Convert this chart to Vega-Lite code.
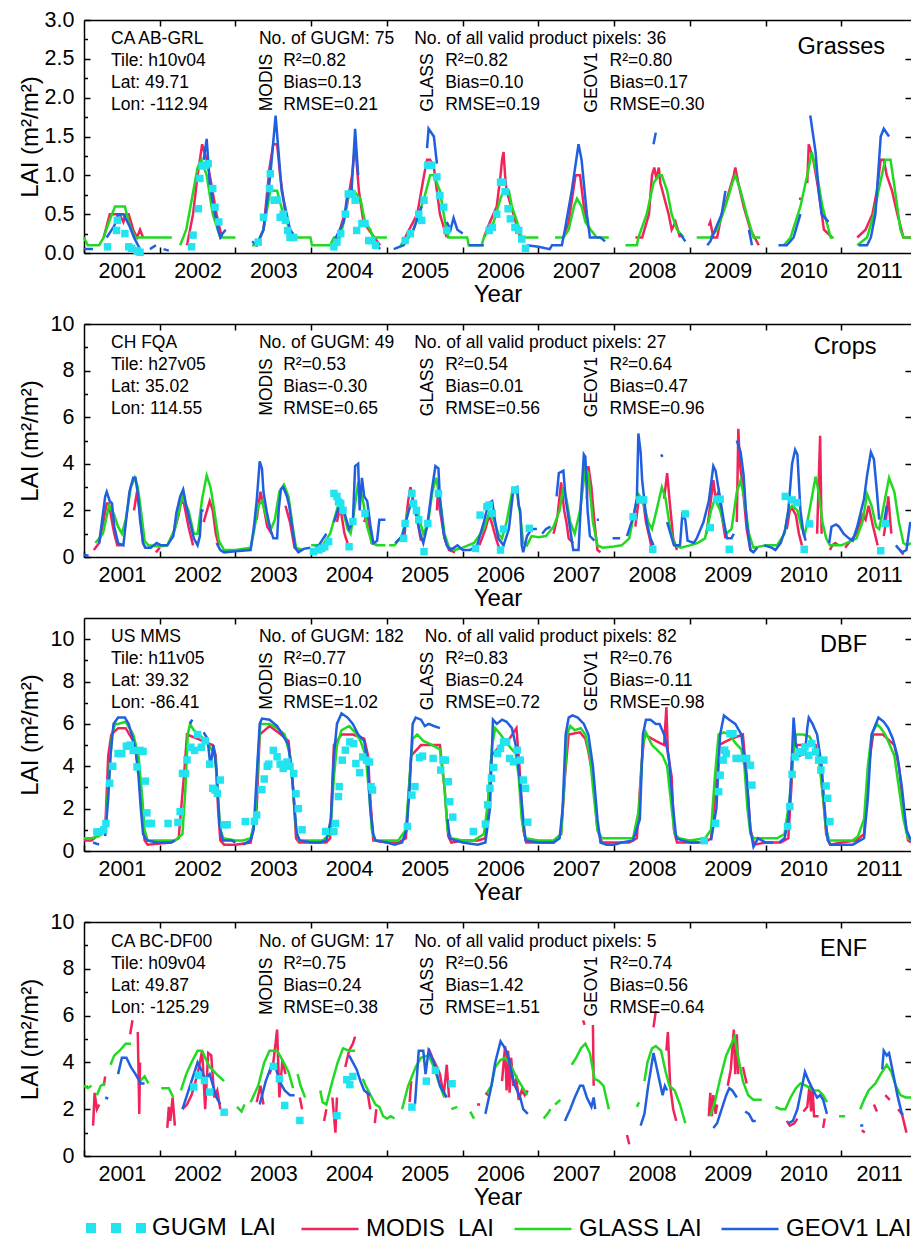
{
"$schema":"https://vega.github.io/schema/vega-lite/v6.json",
"padding":{"left":18,"top":9,"right":0,"bottom":0},
"background":"white",
"config":{"font":"Liberation Sans","view":{"stroke":null},
"axis":{"labelFont":"Liberation Sans","titleFont":"Liberation Sans","labelFontSize":21.5,"titleFontSize":24,"titleFontWeight":"normal","labelColor":"black","titleColor":"black","tickColor":"black","domainColor":"black","domainWidth":1.5,"tickWidth":1.5,"grid":false,"labelFlush":false,"labelOverlap":false},
"legend":{"labelFont":"Liberation Sans","labelFontSize":24,"labelColor":"black","labelOffset":6,"padding":0,"title":null},
"text":{"font":"Liberation Sans","fontSize":17.5,"align":"left","baseline":"middle","lineHeight":22,"color":"black"},
"line":{"strokeWidth":2.5,"clip":true},
"square":{"size":56,"opacity":1,"clip":true}},
"spacing":6,
"resolve":{"scale":{"x":"independent","y":"independent","color":"shared","fill":"shared"},"legend":{"color":"shared","fill":"shared"}},
"datasets":{
"p1M":[{"t":2001.26,"v":0.2},{"t":2001.34,"v":0.5},{"t":2001.47,"v":0.5},{"t":2001.52,"v":0.4},{"t":2001.55,"v":0.5},{"t":2001.59,"v":0.5},{"t":2001.65,"v":0.3},{"t":2001.7,"v":0.2},{"t":2001.74,"v":0.3},{"t":2001.78,"v":0.2},{"t":2001.8,"v":null},
{"t":2002.36,"v":0.1},{"t":2002.44,"v":0.5},{"t":2002.5,"v":1.0},{"t":2002.56,"v":1.4},{"t":2002.62,"v":1.2},{"t":2002.68,"v":0.9},{"t":2002.75,"v":0.5},{"t":2002.82,"v":0.2},{"t":2002.85,"v":null},
{"t":2003.28,"v":0.1},{"t":2003.37,"v":0.3},{"t":2003.45,"v":1.1},{"t":2003.5,"v":1.4},{"t":2003.55,"v":1.4},{"t":2003.59,"v":1.0},{"t":2003.66,"v":0.5},{"t":2003.72,"v":0.3},{"t":2003.79,"v":0.2},{"t":2003.8,"v":null},
{"t":2004.3,"v":0.1},{"t":2004.38,"v":0.3},{"t":2004.47,"v":0.6},{"t":2004.54,"v":1.0},{"t":2004.58,"v":1.4},{"t":2004.63,"v":0.8},{"t":2004.69,"v":0.4},{"t":2004.76,"v":0.3},{"t":2004.91,"v":0.1},{"t":2004.95,"v":null},
{"t":2005.24,"v":0.2},{"t":2005.4,"v":0.5},{"t":2005.49,"v":1.0},{"t":2005.53,"v":1.2},{"t":2005.57,"v":1.2},{"t":2005.62,"v":1.1},{"t":2005.7,"v":0.5},{"t":2005.79,"v":0.2},{"t":2005.85,"v":null},
{"t":2006.28,"v":0.2},{"t":2006.36,"v":0.4},{"t":2006.45,"v":0.6},{"t":2006.5,"v":1.0},{"t":2006.52,"v":1.2},{"t":2006.54,"v":1.3},{"t":2006.56,"v":1.0},{"t":2006.58,"v":0.8},{"t":2006.67,"v":0.5},{"t":2006.76,"v":0.2},{"t":2006.8,"v":null},
{"t":2007.33,"v":0.2},{"t":2007.4,"v":0.4},{"t":2007.49,"v":1.0},{"t":2007.55,"v":1.0},{"t":2007.6,"v":0.6},{"t":2007.64,"v":0.4},{"t":2007.7,"v":null},
{"t":2008.28,"v":0.2},{"t":2008.37,"v":0.2},{"t":2008.46,"v":0.5},{"t":2008.5,"v":1.0},{"t":2008.53,"v":1.1},{"t":2008.56,"v":0.95},{"t":2008.59,"v":1.1},{"t":2008.61,"v":0.9},{"t":2008.72,"v":0.5},{"t":2008.76,"v":0.3},{"t":2008.81,"v":0.4},{"t":2008.87,"v":0.2},{"t":2008.9,"v":null},
{"t":2009.25,"v":0.35},{"t":2009.27,"v":0.4},{"t":2009.31,"v":0.2},{"t":2009.36,"v":0.2},{"t":2009.42,"v":0.5},{"t":2009.49,"v":0.7},{"t":2009.58,"v":1.0},{"t":2009.6,"v":1.1},{"t":2009.64,"v":0.9},{"t":2009.71,"v":0.6},{"t":2009.8,"v":0.3},{"t":2009.91,"v":0.1},{"t":2009.95,"v":null},
{"t":2010.44,"v":0.7},{"t":2010.48,"v":0.7},{"t":2010.5,"v":null},{"t":2010.55,"v":0.9},{"t":2010.57,"v":1.4},{"t":2010.63,"v":1.2},{"t":2010.7,"v":0.8},{"t":2010.77,"v":0.3},{"t":2010.88,"v":0.2},{"t":2010.9,"v":null},
{"t":2011.21,"v":0.2},{"t":2011.32,"v":0.3},{"t":2011.41,"v":0.5},{"t":2011.47,"v":0.8},{"t":2011.52,"v":1.2},{"t":2011.56,"v":1.2},{"t":2011.6,"v":1.0},{"t":2011.67,"v":0.8},{"t":2011.74,"v":0.5},{"t":2011.82,"v":0.2},{"t":2011.92,"v":0.2}],
"p1G":[{"t":2001.0,"v":0.2},{"t":2001.05,"v":0.1},{"t":2001.2,"v":0.1},{"t":2001.26,"v":0.2},{"t":2001.33,"v":0.4},{"t":2001.41,"v":0.6},{"t":2001.54,"v":0.6},{"t":2001.59,"v":0.4},{"t":2001.63,"v":0.3},{"t":2001.68,"v":0.2},{"t":2002.16,"v":0.2},{"t":2002.2,"v":null},
{"t":2002.27,"v":0.1},{"t":2002.35,"v":0.3},{"t":2002.5,"v":1.1},{"t":2002.55,"v":1.2},{"t":2002.62,"v":1.0},{"t":2002.7,"v":0.5},{"t":2002.8,"v":0.2},{"t":2003.0,"v":0.2},{"t":2003.1,"v":null},
{"t":2003.22,"v":0.1},{"t":2003.28,"v":0.1},{"t":2003.37,"v":0.3},{"t":2003.46,"v":0.8},{"t":2003.55,"v":0.8},{"t":2003.63,"v":0.5},{"t":2003.72,"v":0.3},{"t":2003.77,"v":0.2},{"t":2003.99,"v":0.2},{"t":2004.01,"v":0.1},{"t":2004.25,"v":0.1},{"t":2004.3,"v":0.2},{"t":2004.38,"v":0.2},{"t":2004.43,"v":0.4},{"t":2004.5,"v":0.8},{"t":2004.56,"v":0.8},{"t":2004.65,"v":0.7},{"t":2004.71,"v":0.4},{"t":2004.78,"v":0.3},{"t":2004.82,"v":0.2},{"t":2005.0,"v":0.2},{"t":2005.05,"v":null},
{"t":2005.18,"v":0.1},{"t":2005.35,"v":0.3},{"t":2005.49,"v":0.7},{"t":2005.57,"v":1.0},{"t":2005.62,"v":1.0},{"t":2005.7,"v":0.8},{"t":2005.75,"v":0.5},{"t":2005.81,"v":0.2},{"t":2006.06,"v":0.2},{"t":2006.08,"v":0.1},{"t":2006.25,"v":0.1},{"t":2006.28,"v":0.2},{"t":2006.41,"v":0.4},{"t":2006.5,"v":0.7},{"t":2006.54,"v":0.8},{"t":2006.61,"v":0.8},{"t":2006.65,"v":0.6},{"t":2006.72,"v":0.4},{"t":2006.78,"v":0.2},{"t":2007.0,"v":0.2},{"t":2007.1,"v":null},
{"t":2007.22,"v":0.2},{"t":2007.33,"v":0.2},{"t":2007.4,"v":0.3},{"t":2007.47,"v":0.6},{"t":2007.51,"v":0.7},{"t":2007.57,"v":0.6},{"t":2007.62,"v":0.4},{"t":2007.69,"v":0.3},{"t":2007.77,"v":0.2},{"t":2007.93,"v":0.2},{"t":2008.0,"v":null},
{"t":2008.15,"v":0.1},{"t":2008.3,"v":0.1},{"t":2008.32,"v":0.2},{"t":2008.43,"v":0.5},{"t":2008.52,"v":0.9},{"t":2008.59,"v":1.0},{"t":2008.63,"v":1.0},{"t":2008.7,"v":0.8},{"t":2008.76,"v":0.5},{"t":2008.83,"v":0.3},{"t":2008.92,"v":0.2},{"t":2008.95,"v":null},
{"t":2009.09,"v":0.2},{"t":2009.27,"v":0.2},{"t":2009.36,"v":0.3},{"t":2009.47,"v":0.6},{"t":2009.56,"v":0.9},{"t":2009.6,"v":1.0},{"t":2009.67,"v":0.8},{"t":2009.75,"v":0.5},{"t":2009.84,"v":0.2},{"t":2009.93,"v":0.2},{"t":2009.96,"v":null},
{"t":2010.24,"v":0.1},{"t":2010.33,"v":0.2},{"t":2010.46,"v":0.6},{"t":2010.55,"v":1.0},{"t":2010.61,"v":1.3},{"t":2010.68,"v":1.0},{"t":2010.75,"v":0.6},{"t":2010.86,"v":0.2},{"t":2010.9,"v":0.2},{"t":2010.95,"v":null},
{"t":2011.21,"v":0.1},{"t":2011.34,"v":0.2},{"t":2011.43,"v":0.5},{"t":2011.49,"v":0.8},{"t":2011.58,"v":1.2},{"t":2011.65,"v":1.2},{"t":2011.71,"v":0.8},{"t":2011.78,"v":0.3},{"t":2011.82,"v":0.2},{"t":2011.92,"v":0.2}],
"p1B":[{"t":2001.0,"v":0.05},{"t":2001.12,"v":0.05},{"t":2001.15,"v":null},{"t":2001.3,"v":0.2},{"t":2001.4,"v":0.35},{"t":2001.45,"v":0.5},{"t":2001.52,"v":0.5},{"t":2001.6,"v":0.35},{"t":2001.66,"v":0.2},{"t":2001.74,"v":0.05},{"t":2001.8,"v":null},{"t":2001.87,"v":0.05},{"t":2001.95,"v":0.1},{"t":2002.0,"v":null},{"t":2002.05,"v":0.05},{"t":2002.12,"v":0.03},{"t":2002.2,"v":null},
{"t":2002.58,"v":1.2},{"t":2002.62,"v":1.47},{"t":2002.66,"v":0.9},{"t":2002.71,"v":0.6},{"t":2002.77,"v":0.3},{"t":2002.8,"v":0.2},{"t":2002.83,"v":0.25},{"t":2002.87,"v":0.3},{"t":2002.9,"v":null},
{"t":2003.22,"v":0.15},{"t":2003.28,"v":0.1},{"t":2003.37,"v":0.3},{"t":2003.46,"v":1.0},{"t":2003.53,"v":1.77},{"t":2003.61,"v":0.8},{"t":2003.72,"v":0.3},{"t":2003.79,"v":0.2},{"t":2003.85,"v":null},
{"t":2004.3,"v":0.15},{"t":2004.43,"v":0.4},{"t":2004.47,"v":0.7},{"t":2004.53,"v":0.75},{"t":2004.58,"v":1.6},{"t":2004.62,"v":1.0},{"t":2004.7,"v":null},{"t":2004.78,"v":0.2},{"t":2004.91,"v":0.05},{"t":2004.95,"v":null},
{"t":2005.09,"v":0.05},{"t":2005.22,"v":0.1},{"t":2005.35,"v":0.3},{"t":2005.46,"v":0.6},{"t":2005.5,"v":null},{"t":2005.53,"v":1.35},{"t":2005.55,"v":1.6},{"t":2005.62,"v":1.5},{"t":2005.66,"v":1.15},{"t":2005.7,"v":null},{"t":2005.79,"v":0.4},{"t":2005.84,"v":0.3},{"t":2005.88,"v":0.45},{"t":2005.93,"v":0.3},{"t":2006.0,"v":0.25},{"t":2006.03,"v":null},
{"t":2006.08,"v":0.1},{"t":2006.28,"v":0.1},{"t":2006.3,"v":null},{"t":2006.85,"v":0.1},{"t":2007.0,"v":0.08},{"t":2007.15,"v":0.05},{"t":2007.18,"v":0.1},{"t":2007.31,"v":0.1},{"t":2007.35,"v":0.3},{"t":2007.44,"v":0.8},{"t":2007.53,"v":1.4},{"t":2007.57,"v":1.2},{"t":2007.64,"v":0.5},{"t":2007.68,"v":0.2},{"t":2007.82,"v":0.2},{"t":2007.88,"v":0.15},{"t":2007.9,"v":null},
{"t":2008.52,"v":1.4},{"t":2008.55,"v":1.55},{"t":2008.6,"v":null},{"t":2008.87,"v":0.25},{"t":2008.94,"v":0.15},{"t":2008.96,"v":null},
{"t":2009.23,"v":0.1},{"t":2009.27,"v":0.15},{"t":2009.42,"v":0.5},{"t":2009.47,"v":0.8},{"t":2009.5,"v":null},{"t":2009.78,"v":0.3},{"t":2009.82,"v":0.1},{"t":2009.85,"v":null},
{"t":2010.17,"v":0.1},{"t":2010.28,"v":0.1},{"t":2010.37,"v":0.2},{"t":2010.46,"v":0.5},{"t":2010.5,"v":null},{"t":2010.59,"v":1.77},{"t":2010.66,"v":1.3},{"t":2010.7,"v":0.8},{"t":2010.74,"v":0.5},{"t":2010.83,"v":0.4},{"t":2010.86,"v":null},
{"t":2011.23,"v":0.1},{"t":2011.34,"v":0.1},{"t":2011.39,"v":0.2},{"t":2011.45,"v":0.5},{"t":2011.52,"v":1.5},{"t":2011.56,"v":1.6},{"t":2011.63,"v":1.5},{"t":2011.7,"v":null}],
"p1C":[{"t":2001.31,"v":0.08},{"t":2001.43,"v":0.29},{"t":2001.44,"v":0.42},{"t":2001.54,"v":0.25},{"t":2001.59,"v":0.08},{"t":2001.63,"v":0.06},{"t":2001.7,"v":0.03},{"t":2001.74,"v":0.01},
{"t":2002.42,"v":0.08},{"t":2002.44,"v":0.23},{"t":2002.51,"v":0.57},{"t":2002.53,"v":0.96},{"t":2002.56,"v":1.12},{"t":2002.6,"v":1.13},{"t":2002.64,"v":1.15},{"t":2002.7,"v":0.83},{"t":2002.73,"v":0.59},{"t":2002.78,"v":0.4},
{"t":2003.3,"v":0.14},{"t":2003.37,"v":0.46},{"t":2003.45,"v":0.83},{"t":2003.46,"v":1.02},{"t":2003.51,"v":0.68},{"t":2003.55,"v":0.68},{"t":2003.59,"v":0.46},{"t":2003.63,"v":0.5},{"t":2003.66,"v":0.42},{"t":2003.69,"v":0.29},{"t":2003.72,"v":0.2},{"t":2003.77,"v":0.2},
{"t":2004.3,"v":0.08},{"t":2004.34,"v":0.14},{"t":2004.39,"v":0.25},{"t":2004.45,"v":0.5},{"t":2004.49,"v":0.76},{"t":2004.54,"v":0.76},{"t":2004.58,"v":0.68},{"t":2004.6,"v":0.29},{"t":2004.67,"v":0.38},{"t":2004.71,"v":0.38},{"t":2004.76,"v":0.16},{"t":2004.8,"v":0.16},{"t":2004.85,"v":0.1},
{"t":2005.24,"v":0.16},{"t":2005.31,"v":0.25},{"t":2005.42,"v":0.5},{"t":2005.46,"v":0.42},{"t":2005.49,"v":0.68},{"t":2005.54,"v":1.13},{"t":2005.59,"v":1.13},{"t":2005.66,"v":0.98},{"t":2005.7,"v":0.74},{"t":2005.75,"v":0.59},{"t":2005.79,"v":0.29},
{"t":2006.35,"v":0.29},{"t":2006.39,"v":0.33},{"t":2006.45,"v":0.5},{"t":2006.5,"v":0.91},{"t":2006.53,"v":0.91},{"t":2006.56,"v":0.79},{"t":2006.6,"v":0.57},{"t":2006.63,"v":0.44},{"t":2006.69,"v":0.33},{"t":2006.74,"v":0.29},{"t":2006.78,"v":0.18},{"t":2006.83,"v":0.06}],
"p2M":[{"t":2001.13,"v":0.3},{"t":2001.2,"v":0.6},{"t":2001.25,"v":1.4},{"t":2001.3,"v":2.3},{"t":2001.33,"v":2.3},{"t":2001.37,"v":1.5},{"t":2001.4,"v":1.0},{"t":2001.44,"v":0.5},{"t":2001.5,"v":0.5},{"t":2001.55,"v":null},{"t":2001.66,"v":2.0},{"t":2001.7,"v":2.8},{"t":2001.74,"v":1.8},{"t":2001.78,"v":0.6},{"t":2001.81,"v":0.4},{"t":2001.85,"v":null},{"t":2001.95,"v":0.2},{"t":2002.0,"v":0.4},{"t":2002.05,"v":null},
{"t":2002.18,"v":1.0},{"t":2002.25,"v":1.8},{"t":2002.28,"v":2.4},{"t":2002.32,"v":2.3},{"t":2002.38,"v":1.3},{"t":2002.44,"v":0.5},{"t":2002.5,"v":null},{"t":2002.58,"v":1.5},{"t":2002.66,"v":2.4},{"t":2002.7,"v":2.0},{"t":2002.74,"v":1.0},{"t":2002.78,"v":0.5},{"t":2002.8,"v":null},
{"t":2003.28,"v":1.6},{"t":2003.33,"v":2.8},{"t":2003.37,"v":2.2},{"t":2003.42,"v":1.3},{"t":2003.48,"v":1.0},{"t":2003.55,"v":null},{"t":2003.66,"v":2.2},{"t":2003.72,"v":1.5},{"t":2003.78,"v":0.4},{"t":2003.85,"v":0.2},{"t":2003.9,"v":null},
{"t":2004.34,"v":1.5},{"t":2004.37,"v":2.0},{"t":2004.4,"v":1.8},{"t":2004.44,"v":1.0},{"t":2004.48,"v":0.6},{"t":2004.6,"v":null},{"t":2004.7,"v":1.5},{"t":2004.74,"v":1.9},{"t":2004.8,"v":0.6},{"t":2004.88,"v":0.5},{"t":2004.9,"v":null},
{"t":2005.23,"v":0.9},{"t":2005.28,"v":2.4},{"t":2005.31,"v":3.0},{"t":2005.35,"v":2.4},{"t":2005.4,"v":1.6},{"t":2005.45,"v":0.7},{"t":2005.55,"v":null},{"t":2005.66,"v":2.0},{"t":2005.68,"v":3.2},{"t":2005.7,"v":2.0},{"t":2005.76,"v":0.8},{"t":2005.82,"v":0.3},{"t":2005.9,"v":0.2},{"t":2005.95,"v":null},
{"t":2006.22,"v":0.5},{"t":2006.3,"v":1.2},{"t":2006.35,"v":1.8},{"t":2006.39,"v":1.4},{"t":2006.44,"v":0.8},{"t":2006.48,"v":0.4},{"t":2006.55,"v":null},
{"t":2007.2,"v":1.0},{"t":2007.25,"v":1.7},{"t":2007.3,"v":3.2},{"t":2007.34,"v":2.0},{"t":2007.37,"v":1.5},{"t":2007.4,"v":0.8},{"t":2007.46,"v":0.6},{"t":2007.5,"v":null},{"t":2007.64,"v":2.5},{"t":2007.66,"v":3.9},{"t":2007.7,"v":3.0},{"t":2007.74,"v":1.5},{"t":2007.78,"v":0.3},{"t":2007.82,"v":0.2},{"t":2007.85,"v":null},
{"t":2008.28,"v":1.3},{"t":2008.33,"v":2.6},{"t":2008.38,"v":2.5},{"t":2008.42,"v":1.5},{"t":2008.47,"v":0.8},{"t":2008.5,"v":0.3},{"t":2008.55,"v":null},{"t":2008.66,"v":2.5},{"t":2008.7,"v":3.6},{"t":2008.73,"v":2.5},{"t":2008.78,"v":0.8},{"t":2008.83,"v":0.3},{"t":2008.86,"v":null},
{"t":2009.22,"v":1.0},{"t":2009.28,"v":2.5},{"t":2009.31,"v":3.3},{"t":2009.34,"v":2.5},{"t":2009.38,"v":2.8},{"t":2009.42,"v":1.8},{"t":2009.47,"v":0.8},{"t":2009.55,"v":null},{"t":2009.62,"v":1.5},{"t":2009.64,"v":5.5},{"t":2009.66,"v":4.0},{"t":2009.7,"v":3.0},{"t":2009.75,"v":1.2},{"t":2009.8,"v":0.3},{"t":2009.84,"v":0.2},{"t":2009.86,"v":null},
{"t":2010.28,"v":1.2},{"t":2010.32,"v":2.0},{"t":2010.35,"v":2.1},{"t":2010.4,"v":1.8},{"t":2010.44,"v":1.0},{"t":2010.48,"v":0.5},{"t":2010.5,"v":null},{"t":2010.68,"v":1.0},{"t":2010.72,"v":5.2},{"t":2010.74,"v":1.0},{"t":2010.8,"v":null},{"t":2010.85,"v":0.3},{"t":2010.88,"v":0.5},{"t":2010.92,"v":0.6},{"t":2010.96,"v":0.5},{"t":2011.0,"v":null},
{"t":2011.05,"v":0.4},{"t":2011.12,"v":0.7},{"t":2011.2,"v":1.0},{"t":2011.28,"v":1.8},{"t":2011.32,"v":1.6},{"t":2011.36,"v":2.2},{"t":2011.42,"v":1.3},{"t":2011.48,"v":0.5},{"t":2011.52,"v":null},{"t":2011.56,"v":0.9},{"t":2011.58,"v":1.3},{"t":2011.62,"v":2.6},{"t":2011.66,"v":1.0},{"t":2011.7,"v":null},{"t":2011.78,"v":0.3},{"t":2011.82,"v":0.1},{"t":2011.85,"v":null}],
"p2G":[{"t":2001.15,"v":0.6},{"t":2001.25,"v":1.0},{"t":2001.33,"v":2.2},{"t":2001.4,"v":1.8},{"t":2001.45,"v":1.3},{"t":2001.5,"v":1.0},{"t":2001.55,"v":1.6},{"t":2001.62,"v":3.0},{"t":2001.67,"v":3.4},{"t":2001.71,"v":3.0},{"t":2001.76,"v":1.8},{"t":2001.8,"v":0.7},{"t":2001.85,"v":0.5},{"t":2002.0,"v":0.45},
{"t":2002.1,"v":0.5},{"t":2002.2,"v":1.2},{"t":2002.3,"v":2.6},{"t":2002.38,"v":2.0},{"t":2002.45,"v":1.0},{"t":2002.5,"v":1.0},{"t":2002.56,"v":2.5},{"t":2002.62,"v":3.5},{"t":2002.67,"v":3.0},{"t":2002.72,"v":2.0},{"t":2002.78,"v":0.7},{"t":2002.85,"v":0.3},{"t":2003.0,"v":0.3},
{"t":2003.2,"v":0.4},{"t":2003.25,"v":1.2},{"t":2003.3,"v":2.2},{"t":2003.35,"v":2.4},{"t":2003.42,"v":1.6},{"t":2003.47,"v":1.2},{"t":2003.52,"v":1.6},{"t":2003.58,"v":2.8},{"t":2003.64,"v":3.1},{"t":2003.7,"v":2.6},{"t":2003.76,"v":1.2},{"t":2003.8,"v":0.4},{"t":2003.88,"v":0.3},{"t":2003.95,"v":null},
{"t":2004.0,"v":0.5},{"t":2004.15,"v":0.5},{"t":2004.25,"v":1.0},{"t":2004.32,"v":1.8},{"t":2004.37,"v":2.4},{"t":2004.42,"v":2.0},{"t":2004.48,"v":1.2},{"t":2004.52,"v":1.0},{"t":2004.56,"v":1.8},{"t":2004.62,"v":3.2},{"t":2004.68,"v":2.5},{"t":2004.74,"v":1.3},{"t":2004.8,"v":0.6},{"t":2004.88,"v":0.5},{"t":2004.98,"v":0.5},{"t":2005.0,"v":null},
{"t":2005.03,"v":0.5},{"t":2005.1,"v":0.5},{"t":2005.2,"v":0.9},{"t":2005.28,"v":2.0},{"t":2005.33,"v":2.4},{"t":2005.4,"v":2.0},{"t":2005.48,"v":1.0},{"t":2005.54,"v":1.4},{"t":2005.6,"v":2.8},{"t":2005.65,"v":3.4},{"t":2005.7,"v":2.5},{"t":2005.76,"v":1.0},{"t":2005.82,"v":0.4},{"t":2005.9,"v":0.3},{"t":2006.0,"v":0.4},
{"t":2006.15,"v":0.6},{"t":2006.28,"v":1.2},{"t":2006.35,"v":1.9},{"t":2006.4,"v":1.7},{"t":2006.47,"v":1.0},{"t":2006.52,"v":0.8},{"t":2006.58,"v":1.5},{"t":2006.66,"v":2.9},{"t":2006.72,"v":2.7},{"t":2006.76,"v":1.8},{"t":2006.8,"v":0.6},{"t":2006.85,"v":0.5},{"t":2006.91,"v":0.9},{"t":2007.0,"v":0.85},
{"t":2007.1,"v":0.9},{"t":2007.2,"v":1.3},{"t":2007.28,"v":2.0},{"t":2007.33,"v":3.0},{"t":2007.37,"v":2.5},{"t":2007.42,"v":1.5},{"t":2007.48,"v":1.0},{"t":2007.55,"v":2.0},{"t":2007.62,"v":3.8},{"t":2007.66,"v":3.6},{"t":2007.72,"v":1.5},{"t":2007.78,"v":0.5},{"t":2007.85,"v":0.4},{"t":2008.0,"v":0.45},
{"t":2008.1,"v":0.5},{"t":2008.2,"v":0.8},{"t":2008.27,"v":2.0},{"t":2008.32,"v":2.7},{"t":2008.38,"v":2.4},{"t":2008.45,"v":1.5},{"t":2008.5,"v":1.2},{"t":2008.56,"v":2.0},{"t":2008.63,"v":3.0},{"t":2008.68,"v":2.5},{"t":2008.74,"v":1.2},{"t":2008.8,"v":0.5},{"t":2008.88,"v":0.4},{"t":2009.0,"v":0.5},
{"t":2009.1,"v":0.6},{"t":2009.2,"v":0.8},{"t":2009.28,"v":2.0},{"t":2009.33,"v":2.5},{"t":2009.4,"v":2.0},{"t":2009.48,"v":1.0},{"t":2009.55,"v":1.2},{"t":2009.62,"v":2.8},{"t":2009.67,"v":3.3},{"t":2009.72,"v":2.5},{"t":2009.78,"v":1.0},{"t":2009.84,"v":0.4},{"t":2010.0,"v":0.5},
{"t":2010.15,"v":0.5},{"t":2010.25,"v":1.0},{"t":2010.3,"v":2.0},{"t":2010.35,"v":2.2},{"t":2010.42,"v":2.0},{"t":2010.48,"v":1.2},{"t":2010.52,"v":1.0},{"t":2010.58,"v":2.0},{"t":2010.66,"v":3.45},{"t":2010.7,"v":2.8},{"t":2010.75,"v":1.5},{"t":2010.8,"v":0.8},{"t":2010.85,"v":0.5},{"t":2011.0,"v":0.5},
{"t":2011.14,"v":0.7},{"t":2011.2,"v":0.8},{"t":2011.28,"v":1.5},{"t":2011.34,"v":2.7},{"t":2011.4,"v":2.2},{"t":2011.46,"v":1.3},{"t":2011.5,"v":1.2},{"t":2011.56,"v":2.2},{"t":2011.63,"v":3.4},{"t":2011.7,"v":2.8},{"t":2011.76,"v":1.5},{"t":2011.82,"v":0.6},{"t":2011.87,"v":0.5},{"t":2011.92,"v":0.6}],
"p2B":[{"t":2001.0,"v":0.1},{"t":2001.06,"v":0.05},{"t":2001.1,"v":null},{"t":2001.2,"v":0.6},{"t":2001.28,"v":2.6},{"t":2001.3,"v":2.8},{"t":2001.34,"v":2.4},{"t":2001.37,"v":2.3},{"t":2001.4,"v":1.3},{"t":2001.45,"v":0.6},{"t":2001.52,"v":0.5},{"t":2001.55,"v":1.4},{"t":2001.6,"v":2.8},{"t":2001.65,"v":3.4},{"t":2001.68,"v":3.4},{"t":2001.72,"v":2.5},{"t":2001.74,"v":1.6},{"t":2001.78,"v":0.6},{"t":2001.81,"v":0.4},{"t":2001.88,"v":0.4},{"t":2001.96,"v":0.6},{"t":2002.02,"v":0.5},
{"t":2002.1,"v":0.5},{"t":2002.18,"v":0.9},{"t":2002.22,"v":1.9},{"t":2002.27,"v":2.6},{"t":2002.31,"v":2.9},{"t":2002.35,"v":2.2},{"t":2002.4,"v":1.5},{"t":2002.45,"v":0.8},{"t":2002.5,"v":0.5},{"t":2002.53,"v":0.9},{"t":2002.55,"v":2.0},{"t":2002.58,"v":2.0},{"t":2002.65,"v":null},{"t":2002.75,"v":0.6},{"t":2002.8,"v":0.3},{"t":2002.85,"v":0.2},{"t":2003.0,"v":0.25},
{"t":2003.2,"v":0.3},{"t":2003.24,"v":1.2},{"t":2003.28,"v":2.4},{"t":2003.32,"v":4.1},{"t":2003.35,"v":3.8},{"t":2003.37,"v":2.8},{"t":2003.41,"v":2.0},{"t":2003.46,"v":1.2},{"t":2003.5,"v":0.8},{"t":2003.55,"v":0.8},{"t":2003.57,"v":2.0},{"t":2003.6,"v":2.9},{"t":2003.63,"v":3.0},{"t":2003.68,"v":2.6},{"t":2003.71,"v":2.2},{"t":2003.74,"v":1.5},{"t":2003.79,"v":0.4},{"t":2003.83,"v":0.2},{"t":2003.9,"v":0.35},{"t":2003.99,"v":0.4},{"t":2004.02,"v":null},
{"t":2004.05,"v":0.4},{"t":2004.1,"v":0.5},{"t":2004.2,"v":1.0},{"t":2004.25,"v":null},{"t":2004.3,"v":1.5},{"t":2004.38,"v":2.3},{"t":2004.43,"v":2.0},{"t":2004.5,"v":1.2},{"t":2004.55,"v":1.5},{"t":2004.58,"v":3.9},{"t":2004.62,"v":4.0},{"t":2004.64,"v":2.0},{"t":2004.67,"v":3.4},{"t":2004.7,"v":2.6},{"t":2004.74,"v":2.4},{"t":2004.78,"v":1.4},{"t":2004.82,"v":0.6},{"t":2004.87,"v":0.7},{"t":2004.9,"v":1.6},{"t":2004.98,"v":1.6},{"t":2005.0,"v":null},
{"t":2005.11,"v":0.6},{"t":2005.2,"v":0.9},{"t":2005.29,"v":2.0},{"t":2005.33,"v":2.4},{"t":2005.37,"v":2.0},{"t":2005.44,"v":1.0},{"t":2005.48,"v":0.6},{"t":2005.53,"v":1.3},{"t":2005.59,"v":2.8},{"t":2005.64,"v":3.9},{"t":2005.68,"v":3.8},{"t":2005.7,"v":2.5},{"t":2005.75,"v":1.0},{"t":2005.79,"v":0.5},{"t":2005.84,"v":0.3},{"t":2005.93,"v":0.5},{"t":2006.0,"v":0.3},
{"t":2006.1,"v":0.3},{"t":2006.19,"v":0.5},{"t":2006.28,"v":1.5},{"t":2006.34,"v":2.3},{"t":2006.39,"v":2.4},{"t":2006.43,"v":1.5},{"t":2006.47,"v":0.8},{"t":2006.54,"v":0.5},{"t":2006.61,"v":1.2},{"t":2006.67,"v":2.9},{"t":2006.72,"v":3.0},{"t":2006.74,"v":2.2},{"t":2006.76,"v":2.0},{"t":2006.78,"v":0.5},{"t":2006.8,"v":0.2},{"t":2006.85,"v":0.9},{"t":2006.91,"v":1.2},{"t":2006.98,"v":1.2},{"t":2007.0,"v":null},
{"t":2007.05,"v":1.0},{"t":2007.1,"v":1.2},{"t":2007.16,"v":1.3},{"t":2007.2,"v":null},{"t":2007.24,"v":2.6},{"t":2007.27,"v":3.6},{"t":2007.33,"v":3.7},{"t":2007.36,"v":2.5},{"t":2007.42,"v":1.2},{"t":2007.46,"v":0.3},{"t":2007.53,"v":0.3},{"t":2007.57,"v":2.8},{"t":2007.6,"v":4.4},{"t":2007.62,"v":4.3},{"t":2007.65,"v":2.0},{"t":2007.68,"v":0.9},{"t":2007.74,"v":0.7},{"t":2007.76,"v":null},{"t":2007.77,"v":1.6},{"t":2007.8,"v":1.6},{"t":2007.85,"v":null},
{"t":2007.98,"v":0.8},{"t":2008.08,"v":0.8},{"t":2008.12,"v":null},{"t":2008.17,"v":0.9},{"t":2008.26,"v":1.8},{"t":2008.3,"v":2.5},{"t":2008.32,"v":5.3},{"t":2008.35,"v":4.5},{"t":2008.37,"v":3.3},{"t":2008.43,"v":1.5},{"t":2008.48,"v":0.8},{"t":2008.52,"v":0.5},{"t":2008.57,"v":null},{"t":2008.62,"v":4.4},{"t":2008.64,"v":4.3},{"t":2008.67,"v":null},{"t":2008.7,"v":1.5},{"t":2008.79,"v":0.5},{"t":2008.87,"v":0.5},{"t":2008.9,"v":1.8},{"t":2008.94,"v":1.6},{"t":2008.97,"v":0.7},
{"t":2009.05,"v":0.6},{"t":2009.09,"v":0.8},{"t":2009.18,"v":1.5},{"t":2009.25,"v":2.4},{"t":2009.31,"v":3.9},{"t":2009.34,"v":3.7},{"t":2009.4,"v":2.5},{"t":2009.45,"v":1.5},{"t":2009.49,"v":0.8},{"t":2009.55,"v":0.8},{"t":2009.58,"v":1.0},{"t":2009.6,"v":null},{"t":2009.62,"v":5.0},{"t":2009.67,"v":4.5},{"t":2009.71,"v":3.5},{"t":2009.75,"v":1.5},{"t":2009.8,"v":0.3},{"t":2009.84,"v":0.2},{"t":2009.89,"v":0.4},{"t":2009.92,"v":null},
{"t":2009.98,"v":0.5},{"t":2010.08,"v":0.4},{"t":2010.13,"v":0.3},{"t":2010.2,"v":0.6},{"t":2010.26,"v":1.2},{"t":2010.3,"v":2.0},{"t":2010.35,"v":4.0},{"t":2010.39,"v":4.6},{"t":2010.42,"v":4.4},{"t":2010.46,"v":2.0},{"t":2010.5,"v":1.0},{"t":2010.53,"v":0.7},{"t":2010.6,"v":null},{"t":2010.84,"v":0.6},{"t":2010.87,"v":1.3},{"t":2010.93,"v":1.4},{"t":2010.97,"v":1.3},{"t":2011.03,"v":1.0},{"t":2011.1,"v":0.8},{"t":2011.15,"v":0.7},
{"t":2011.21,"v":1.3},{"t":2011.3,"v":2.5},{"t":2011.34,"v":3.5},{"t":2011.39,"v":4.5},{"t":2011.43,"v":4.2},{"t":2011.47,"v":2.8},{"t":2011.5,"v":1.6},{"t":2011.53,"v":null},{"t":2011.56,"v":1.4},{"t":2011.6,"v":2.2},{"t":2011.65,"v":null},{"t":2011.72,"v":0.5},{"t":2011.8,"v":0.2},{"t":2011.86,"v":0.3},{"t":2011.91,"v":1.5},{"t":2011.92,"v":1.4}],
"p2C":[{"t":2004.03,"v":0.23},{"t":2004.1,"v":0.3},{"t":2004.14,"v":0.37},{"t":2004.18,"v":0.44},{"t":2004.23,"v":0.66},{"t":2004.3,"v":2.73},{"t":2004.34,"v":2.6},{"t":2004.36,"v":2.37},{"t":2004.39,"v":2.3},{"t":2004.42,"v":2.0},{"t":2004.5,"v":0.44},{"t":2004.55,"v":1.52},{"t":2004.71,"v":1.87},
{"t":2005.22,"v":0.8},{"t":2005.24,"v":1.44},{"t":2005.33,"v":2.73},{"t":2005.35,"v":2.3},{"t":2005.39,"v":2.0},{"t":2005.42,"v":1.6},{"t":2005.49,"v":0.23},{"t":2005.54,"v":1.44},{"t":2005.68,"v":2.73},
{"t":2006.17,"v":0.37},{"t":2006.23,"v":1.8},{"t":2006.32,"v":2.16},{"t":2006.35,"v":2.23},{"t":2006.39,"v":1.87},{"t":2006.5,"v":0.3},{"t":2006.54,"v":1.2},{"t":2006.69,"v":2.88},{"t":2006.88,"v":1.23},
{"t":2008.25,"v":1.73},{"t":2008.34,"v":2.45},{"t":2008.39,"v":2.45},{"t":2008.51,"v":0.33},{"t":2008.94,"v":1.85},
{"t":2009.27,"v":1.26},{"t":2009.36,"v":2.48},{"t":2009.4,"v":2.48},{"t":2009.52,"v":0.33},
{"t":2010.26,"v":2.6},{"t":2010.35,"v":2.45},{"t":2010.41,"v":2.33},{"t":2010.51,"v":0.33},{"t":2010.58,"v":1.42},
{"t":2011.52,"v":0.27},{"t":2011.58,"v":1.44}],
"p3M":[{"t":2001.0,"v":0.5},{"t":2001.1,"v":0.5},{"t":2001.2,"v":0.8},{"t":2001.28,"v":1.0},{"t":2001.32,"v":4.5},{"t":2001.36,"v":5.5},{"t":2001.45,"v":5.8},{"t":2001.55,"v":5.8},{"t":2001.65,"v":5.2},{"t":2001.72,"v":4.0},{"t":2001.76,"v":2.0},{"t":2001.8,"v":0.5},{"t":2001.84,"v":0.3},{"t":2002.0,"v":0.35},
{"t":2002.15,"v":0.4},{"t":2002.25,"v":0.6},{"t":2002.33,"v":4.0},{"t":2002.36,"v":5.5},{"t":2002.5,"v":5.3},{"t":2002.62,"v":5.1},{"t":2002.7,"v":5.0},{"t":2002.74,"v":4.5},{"t":2002.77,"v":2.0},{"t":2002.8,"v":0.5},{"t":2002.85,"v":0.3},{"t":2003.0,"v":0.3},
{"t":2003.2,"v":0.4},{"t":2003.28,"v":2.0},{"t":2003.32,"v":5.5},{"t":2003.45,"v":5.9},{"t":2003.6,"v":5.5},{"t":2003.7,"v":5.2},{"t":2003.76,"v":3.0},{"t":2003.8,"v":0.6},{"t":2003.84,"v":0.4},{"t":2004.0,"v":0.4},
{"t":2004.2,"v":0.4},{"t":2004.25,"v":0.6},{"t":2004.3,"v":5.0},{"t":2004.4,"v":5.5},{"t":2004.55,"v":5.5},{"t":2004.7,"v":5.3},{"t":2004.75,"v":4.5},{"t":2004.78,"v":2.5},{"t":2004.82,"v":0.5},{"t":2005.0,"v":0.4},
{"t":2005.15,"v":0.4},{"t":2005.25,"v":0.6},{"t":2005.32,"v":4.5},{"t":2005.45,"v":5.0},{"t":2005.6,"v":5.0},{"t":2005.7,"v":5.0},{"t":2005.76,"v":3.0},{"t":2005.81,"v":0.7},{"t":2005.85,"v":0.4},{"t":2006.0,"v":0.5},
{"t":2006.2,"v":0.5},{"t":2006.3,"v":0.6},{"t":2006.34,"v":2.5},{"t":2006.38,"v":4.5},{"t":2006.5,"v":5.0},{"t":2006.62,"v":5.3},{"t":2006.71,"v":5.8},{"t":2006.75,"v":4.0},{"t":2006.8,"v":1.0},{"t":2006.84,"v":0.4},{"t":2007.0,"v":0.4},
{"t":2007.2,"v":0.4},{"t":2007.3,"v":0.8},{"t":2007.35,"v":3.5},{"t":2007.4,"v":5.5},{"t":2007.55,"v":5.6},{"t":2007.62,"v":5.3},{"t":2007.66,"v":4.7},{"t":2007.72,"v":3.5},{"t":2007.78,"v":1.0},{"t":2007.84,"v":0.4},{"t":2008.0,"v":0.4},
{"t":2008.2,"v":0.4},{"t":2008.3,"v":0.6},{"t":2008.36,"v":4.0},{"t":2008.4,"v":5.5},{"t":2008.55,"v":5.2},{"t":2008.66,"v":5.0},{"t":2008.69,"v":6.8},{"t":2008.71,"v":4.6},{"t":2008.76,"v":3.5},{"t":2008.79,"v":1.0},{"t":2008.83,"v":0.4},{"t":2009.0,"v":0.4},
{"t":2009.2,"v":0.4},{"t":2009.28,"v":0.6},{"t":2009.33,"v":2.5},{"t":2009.38,"v":5.0},{"t":2009.55,"v":5.3},{"t":2009.7,"v":5.5},{"t":2009.75,"v":3.5},{"t":2009.8,"v":1.0},{"t":2009.85,"v":0.3},{"t":2010.0,"v":0.4},
{"t":2010.2,"v":0.4},{"t":2010.3,"v":0.6},{"t":2010.34,"v":3.0},{"t":2010.37,"v":5.0},{"t":2010.5,"v":5.0},{"t":2010.58,"v":5.0},{"t":2010.66,"v":5.0},{"t":2010.72,"v":4.0},{"t":2010.76,"v":2.5},{"t":2010.8,"v":0.8},{"t":2010.85,"v":0.3},{"t":2011.0,"v":0.4},
{"t":2011.2,"v":0.5},{"t":2011.3,"v":0.8},{"t":2011.36,"v":4.0},{"t":2011.42,"v":5.5},{"t":2011.55,"v":5.5},{"t":2011.7,"v":5.0},{"t":2011.76,"v":4.0},{"t":2011.82,"v":2.0},{"t":2011.88,"v":0.5},{"t":2011.92,"v":0.4}],
"p3G":[{"t":2001.0,"v":0.6},{"t":2001.1,"v":0.6},{"t":2001.2,"v":0.7},{"t":2001.28,"v":1.0},{"t":2001.33,"v":3.5},{"t":2001.37,"v":5.5},{"t":2001.41,"v":6.0},{"t":2001.45,"v":6.0},{"t":2001.55,"v":6.1},{"t":2001.65,"v":5.5},{"t":2001.72,"v":4.5},{"t":2001.77,"v":2.5},{"t":2001.8,"v":1.0},{"t":2001.84,"v":0.5},{"t":2001.9,"v":0.5},{"t":2002.0,"v":0.5},
{"t":2002.2,"v":0.5},{"t":2002.3,"v":0.8},{"t":2002.34,"v":3.0},{"t":2002.37,"v":5.5},{"t":2002.4,"v":6.0},{"t":2002.45,"v":5.7},{"t":2002.55,"v":5.4},{"t":2002.65,"v":5.0},{"t":2002.73,"v":4.5},{"t":2002.77,"v":2.5},{"t":2002.8,"v":1.0},{"t":2002.84,"v":0.6},{"t":2003.0,"v":0.5},
{"t":2003.1,"v":0.5},{"t":2003.2,"v":0.6},{"t":2003.26,"v":1.5},{"t":2003.3,"v":4.5},{"t":2003.33,"v":6.0},{"t":2003.45,"v":6.0},{"t":2003.55,"v":5.8},{"t":2003.65,"v":5.5},{"t":2003.72,"v":4.5},{"t":2003.77,"v":2.5},{"t":2003.8,"v":1.0},{"t":2003.84,"v":0.5},{"t":2004.0,"v":0.5},
{"t":2004.15,"v":0.5},{"t":2004.25,"v":0.8},{"t":2004.3,"v":3.5},{"t":2004.34,"v":5.0},{"t":2004.4,"v":5.7},{"t":2004.5,"v":5.9},{"t":2004.58,"v":5.6},{"t":2004.65,"v":5.2},{"t":2004.72,"v":4.5},{"t":2004.77,"v":2.5},{"t":2004.8,"v":1.0},{"t":2004.84,"v":0.5},{"t":2005.0,"v":0.5},
{"t":2005.15,"v":0.5},{"t":2005.25,"v":1.0},{"t":2005.3,"v":3.5},{"t":2005.34,"v":5.3},{"t":2005.4,"v":5.5},{"t":2005.48,"v":5.2},{"t":2005.6,"v":5.0},{"t":2005.7,"v":4.8},{"t":2005.76,"v":3.0},{"t":2005.8,"v":1.0},{"t":2005.85,"v":0.6},{"t":2006.0,"v":0.5},
{"t":2006.15,"v":0.5},{"t":2006.28,"v":0.8},{"t":2006.34,"v":2.5},{"t":2006.39,"v":5.0},{"t":2006.43,"v":5.8},{"t":2006.5,"v":5.5},{"t":2006.58,"v":5.1},{"t":2006.65,"v":4.8},{"t":2006.7,"v":4.6},{"t":2006.74,"v":3.5},{"t":2006.78,"v":1.5},{"t":2006.83,"v":0.6},{"t":2007.0,"v":0.5},
{"t":2007.2,"v":0.5},{"t":2007.3,"v":0.8},{"t":2007.34,"v":3.0},{"t":2007.38,"v":5.5},{"t":2007.42,"v":5.9},{"t":2007.48,"v":5.7},{"t":2007.56,"v":5.8},{"t":2007.62,"v":5.5},{"t":2007.68,"v":4.5},{"t":2007.72,"v":3.0},{"t":2007.78,"v":1.0},{"t":2007.84,"v":0.6},{"t":2008.0,"v":0.6},
{"t":2008.25,"v":0.6},{"t":2008.33,"v":2.0},{"t":2008.38,"v":5.0},{"t":2008.42,"v":5.6},{"t":2008.5,"v":5.0},{"t":2008.56,"v":4.8},{"t":2008.64,"v":4.5},{"t":2008.7,"v":4.0},{"t":2008.76,"v":2.0},{"t":2008.8,"v":0.8},{"t":2008.86,"v":0.6},{"t":2009.0,"v":0.5},
{"t":2009.2,"v":0.6},{"t":2009.28,"v":1.0},{"t":2009.33,"v":3.5},{"t":2009.38,"v":5.5},{"t":2009.45,"v":5.6},{"t":2009.52,"v":5.5},{"t":2009.6,"v":5.1},{"t":2009.68,"v":4.8},{"t":2009.72,"v":4.0},{"t":2009.76,"v":2.0},{"t":2009.8,"v":0.8},{"t":2009.85,"v":0.6},{"t":2010.0,"v":0.6},
{"t":2010.15,"v":0.6},{"t":2010.25,"v":0.8},{"t":2010.32,"v":2.5},{"t":2010.36,"v":4.5},{"t":2010.4,"v":5.5},{"t":2010.5,"v":5.5},{"t":2010.58,"v":5.4},{"t":2010.64,"v":5.0},{"t":2010.7,"v":4.5},{"t":2010.76,"v":2.5},{"t":2010.8,"v":1.0},{"t":2010.84,"v":0.5},{"t":2010.9,"v":0.5},{"t":2011.0,"v":0.5},
{"t":2011.15,"v":0.5},{"t":2011.22,"v":0.7},{"t":2011.3,"v":1.5},{"t":2011.35,"v":4.0},{"t":2011.4,"v":5.5},{"t":2011.47,"v":6.0},{"t":2011.52,"v":5.8},{"t":2011.58,"v":5.5},{"t":2011.64,"v":5.0},{"t":2011.7,"v":4.5},{"t":2011.76,"v":3.0},{"t":2011.82,"v":1.5},{"t":2011.88,"v":0.6},{"t":2011.92,"v":0.5}],
"p3B":[{"t":2001.12,"v":0.4},{"t":2001.2,"v":0.3},{"t":2001.24,"v":null},{"t":2001.28,"v":0.7},{"t":2001.32,"v":2.5},{"t":2001.35,"v":4.5},{"t":2001.39,"v":6.0},{"t":2001.45,"v":6.3},{"t":2001.54,"v":6.3},{"t":2001.59,"v":6.0},{"t":2001.63,"v":5.5},{"t":2001.68,"v":4.8},{"t":2001.72,"v":3.5},{"t":2001.75,"v":2.0},{"t":2001.78,"v":0.8},{"t":2001.83,"v":0.5},{"t":2001.96,"v":0.4},{"t":2002.15,"v":0.4},{"t":2002.2,"v":0.5},{"t":2002.25,"v":null},
{"t":2002.4,"v":6.0},{"t":2002.43,"v":6.2},{"t":2002.5,"v":null},{"t":2002.58,"v":5.6},{"t":2002.63,"v":5.3},{"t":2002.67,"v":4.0},{"t":2002.71,"v":5.0},{"t":2002.75,"v":3.8},{"t":2002.79,"v":1.2},{"t":2002.83,"v":0.5},{"t":2002.95,"v":0.5},{"t":2003.0,"v":0.4},{"t":2003.05,"v":null},
{"t":2003.1,"v":0.3},{"t":2003.2,"v":0.5},{"t":2003.24,"v":1.0},{"t":2003.28,"v":3.5},{"t":2003.32,"v":6.0},{"t":2003.35,"v":6.25},{"t":2003.45,"v":6.2},{"t":2003.55,"v":5.9},{"t":2003.62,"v":5.5},{"t":2003.7,"v":5.0},{"t":2003.75,"v":3.5},{"t":2003.78,"v":2.0},{"t":2003.81,"v":0.8},{"t":2003.85,"v":0.5},{"t":2004.0,"v":0.4},
{"t":2004.12,"v":0.4},{"t":2004.2,"v":0.5},{"t":2004.26,"v":1.5},{"t":2004.3,"v":4.5},{"t":2004.34,"v":6.0},{"t":2004.4,"v":6.5},{"t":2004.48,"v":6.3},{"t":2004.55,"v":6.0},{"t":2004.62,"v":5.5},{"t":2004.7,"v":5.2},{"t":2004.75,"v":4.0},{"t":2004.78,"v":2.0},{"t":2004.82,"v":0.8},{"t":2004.85,"v":0.5},{"t":2005.0,"v":0.4},
{"t":2005.1,"v":0.3},{"t":2005.2,"v":0.4},{"t":2005.26,"v":1.0},{"t":2005.3,"v":3.0},{"t":2005.34,"v":6.0},{"t":2005.38,"v":6.3},{"t":2005.45,"v":6.2},{"t":2005.5,"v":5.9},{"t":2005.55,"v":6.0},{"t":2005.62,"v":5.9},{"t":2005.7,"v":5.8},{"t":2005.74,"v":null},{"t":2005.8,"v":1.5},{"t":2005.83,"v":0.6},{"t":2005.9,"v":0.5},{"t":2006.0,"v":0.4},
{"t":2006.2,"v":0.3},{"t":2006.3,"v":0.4},{"t":2006.36,"v":2.0},{"t":2006.4,"v":6.2},{"t":2006.45,"v":6.0},{"t":2006.52,"v":6.2},{"t":2006.58,"v":6.1},{"t":2006.65,"v":5.8},{"t":2006.7,"v":5.0},{"t":2006.75,"v":3.5},{"t":2006.8,"v":1.5},{"t":2006.83,"v":0.5},{"t":2007.0,"v":0.4},
{"t":2007.2,"v":0.4},{"t":2007.28,"v":0.6},{"t":2007.32,"v":2.0},{"t":2007.36,"v":5.5},{"t":2007.4,"v":6.3},{"t":2007.45,"v":6.4},{"t":2007.52,"v":6.3},{"t":2007.6,"v":6.0},{"t":2007.66,"v":5.5},{"t":2007.72,"v":4.0},{"t":2007.78,"v":1.5},{"t":2007.82,"v":0.4},{"t":2007.9,"v":0.3},{"t":2008.0,"v":0.3},
{"t":2008.1,"v":0.4},{"t":2008.25,"v":0.5},{"t":2008.34,"v":1.5},{"t":2008.38,"v":5.5},{"t":2008.42,"v":6.2},{"t":2008.48,"v":6.2},{"t":2008.55,"v":6.0},{"t":2008.6,"v":6.0},{"t":2008.66,"v":5.5},{"t":2008.72,"v":4.5},{"t":2008.78,"v":2.0},{"t":2008.82,"v":0.6},{"t":2008.9,"v":0.5},{"t":2009.0,"v":0.4},
{"t":2009.12,"v":0.4},{"t":2009.14,"v":null},{"t":2009.17,"v":0.5},{"t":2009.22,"v":0.4},{"t":2009.25,"v":null},{"t":2009.28,"v":0.5},{"t":2009.35,"v":2.0},{"t":2009.4,"v":5.5},{"t":2009.45,"v":6.4},{"t":2009.52,"v":6.2},{"t":2009.6,"v":6.0},{"t":2009.68,"v":5.5},{"t":2009.75,"v":3.5},{"t":2009.8,"v":1.0},{"t":2009.84,"v":0.2},{"t":2009.9,"v":0.6},{"t":2009.95,"v":0.5},{"t":2010.0,"v":0.4},
{"t":2010.1,"v":0.4},{"t":2010.12,"v":null},{"t":2010.18,"v":0.4},{"t":2010.25,"v":0.6},{"t":2010.3,"v":1.5},{"t":2010.33,"v":3.0},{"t":2010.37,"v":6.3},{"t":2010.4,"v":5.0},{"t":2010.45,"v":4.5},{"t":2010.52,"v":4.6},{"t":2010.55,"v":5.8},{"t":2010.57,"v":6.3},{"t":2010.62,"v":6.0},{"t":2010.68,"v":5.5},{"t":2010.74,"v":4.0},{"t":2010.78,"v":2.0},{"t":2010.82,"v":0.5},{"t":2010.86,"v":0.3},{"t":2011.0,"v":0.3},
{"t":2011.15,"v":0.3},{"t":2011.25,"v":0.5},{"t":2011.3,"v":0.6},{"t":2011.35,"v":2.5},{"t":2011.4,"v":5.5},{"t":2011.49,"v":6.3},{"t":2011.56,"v":6.1},{"t":2011.62,"v":5.8},{"t":2011.68,"v":5.3},{"t":2011.74,"v":4.5},{"t":2011.8,"v":3.0},{"t":2011.86,"v":1.0},{"t":2011.92,"v":0.5}],
"p3C":[{"t":2001.17,"v":0.9},{"t":2001.21,"v":0.9},{"t":2001.26,"v":1.0},{"t":2001.29,"v":1.3},{"t":2001.34,"v":3.2},{"t":2001.38,"v":4.0},{"t":2001.45,"v":4.6},{"t":2001.5,"v":4.6},{"t":2001.56,"v":4.95},{"t":2001.61,"v":5.0},{"t":2001.65,"v":4.75},{"t":2001.7,"v":3.97},{"t":2001.74,"v":4.75},{"t":2001.78,"v":4.7},{"t":2001.81,"v":3.3},{"t":2001.83,"v":1.8},{"t":2001.85,"v":1.3},{"t":2001.89,"v":1.3},{"t":2002.11,"v":1.3},
{"t":2002.24,"v":1.35},{"t":2002.27,"v":1.86},{"t":2002.3,"v":3.66},{"t":2002.34,"v":3.66},{"t":2002.36,"v":4.3},{"t":2002.41,"v":4.9},{"t":2002.46,"v":4.75},{"t":2002.5,"v":5.5},{"t":2002.55,"v":4.9},{"t":2002.6,"v":5.2},{"t":2002.66,"v":4.1},{"t":2002.7,"v":2.96},{"t":2002.73,"v":2.88},{"t":2002.76,"v":2.72},{"t":2002.8,"v":3.35},{"t":2002.85,"v":1.24},{"t":2002.89,"v":1.24},{"t":2003.13,"v":1.39},
{"t":2003.25,"v":1.4},{"t":2003.28,"v":1.7},{"t":2003.35,"v":2.9},{"t":2003.38,"v":3.4},{"t":2003.42,"v":4.0},{"t":2003.44,"v":4.1},{"t":2003.5,"v":4.75},{"t":2003.55,"v":4.45},{"t":2003.59,"v":4.1},{"t":2003.63,"v":3.9},{"t":2003.68,"v":4.2},{"t":2003.72,"v":4.0},{"t":2003.77,"v":3.66},{"t":2003.8,"v":2.7},{"t":2003.83,"v":2.0},{"t":2003.88,"v":1.0},
{"t":2004.19,"v":0.92},{"t":2004.3,"v":0.92},{"t":2004.32,"v":1.3},{"t":2004.36,"v":2.57},{"t":2004.37,"v":3.04},{"t":2004.41,"v":4.29},{"t":2004.45,"v":4.76},{"t":2004.51,"v":5.15},{"t":2004.56,"v":5.07},{"t":2004.59,"v":4.13},{"t":2004.64,"v":3.7},{"t":2004.68,"v":4.44},{"t":2004.73,"v":4.29},{"t":2004.77,"v":4.2},{"t":2004.79,"v":3.04},{"t":2004.81,"v":2.88},
{"t":2005.27,"v":1.16},{"t":2005.33,"v":2.64},{"t":2005.37,"v":3.04},{"t":2005.43,"v":4.41},{"t":2005.47,"v":4.48},{"t":2005.61,"v":4.37},{"t":2005.71,"v":3.82},{"t":2005.74,"v":4.29},{"t":2005.77,"v":4.29},{"t":2005.81,"v":3.27},{"t":2005.83,"v":2.33},{"t":2005.87,"v":1.6},
{"t":2006.14,"v":0.92},{"t":2006.3,"v":1.27},{"t":2006.33,"v":2.18},{"t":2006.36,"v":2.96},{"t":2006.38,"v":3.43},{"t":2006.41,"v":3.94},{"t":2006.46,"v":4.6},{"t":2006.5,"v":4.84},{"t":2006.54,"v":5.15},{"t":2006.58,"v":5.15},{"t":2006.62,"v":4.37},{"t":2006.67,"v":4.21},{"t":2006.72,"v":4.76},{"t":2006.76,"v":4.29},{"t":2006.8,"v":3.35},{"t":2006.83,"v":2.96},{"t":2006.86,"v":1.36},
{"t":2009.19,"v":0.49},{"t":2009.34,"v":1.31},{"t":2009.38,"v":2.8},{"t":2009.4,"v":3.58},{"t":2009.44,"v":4.29},{"t":2009.46,"v":4.76},{"t":2009.48,"v":4.6},{"t":2009.53,"v":5.54},{"t":2009.57,"v":5.54},{"t":2009.61,"v":4.37},{"t":2009.67,"v":4.37},{"t":2009.75,"v":4.37},{"t":2009.8,"v":4.05},{"t":2009.82,"v":3.11},
{"t":2010.29,"v":1.16},{"t":2010.32,"v":2.1},{"t":2010.35,"v":3.62},{"t":2010.39,"v":4.44},{"t":2010.44,"v":4.68},{"t":2010.48,"v":4.68},{"t":2010.52,"v":4.91},{"t":2010.57,"v":4.52},{"t":2010.61,"v":5.07},{"t":2010.66,"v":4.68},{"t":2010.7,"v":4.29},{"t":2010.73,"v":3.82},{"t":2010.77,"v":4.29},{"t":2010.8,"v":3.07},{"t":2010.82,"v":2.49},{"t":2010.85,"v":1.39}],
"p4M":[{"t":2001.12,"v":1.3},{"t":2001.14,"v":2.7},{"t":2001.17,"v":2.0},{"t":2001.2,"v":2.2},{"t":2001.23,"v":null},{"t":2001.26,"v":3.0},{"t":2001.28,"v":3.4},{"t":2001.32,"v":null},{"t":2001.61,"v":5.2},{"t":2001.64,"v":5.8},{"t":2001.67,"v":null},{"t":2001.71,"v":5.3},{"t":2001.73,"v":1.8},{"t":2001.74,"v":4.0},{"t":2001.78,"v":null},
{"t":2002.1,"v":1.2},{"t":2002.12,"v":2.1},{"t":2002.14,"v":1.5},{"t":2002.17,"v":2.5},{"t":2002.2,"v":1.3},{"t":2002.24,"v":null},{"t":2002.3,"v":2.0},{"t":2002.36,"v":2.2},{"t":2002.42,"v":2.6},{"t":2002.5,"v":3.5},{"t":2002.56,"v":4.5},{"t":2002.6,"v":2.0},{"t":2002.64,"v":4.4},{"t":2002.68,"v":4.3},{"t":2002.72,"v":2.5},{"t":2002.76,"v":2.8},{"t":2002.8,"v":2.0},{"t":2002.85,"v":null},
{"t":2003.28,"v":2.3},{"t":2003.33,"v":3.0},{"t":2003.37,"v":2.2},{"t":2003.4,"v":null},{"t":2003.45,"v":3.5},{"t":2003.5,"v":4.0},{"t":2003.55,"v":5.4},{"t":2003.58,"v":2.5},{"t":2003.62,"v":4.1},{"t":2003.66,"v":3.5},{"t":2003.7,"v":null},{"t":2003.85,"v":2.5},{"t":2003.88,"v":2.0},{"t":2003.92,"v":null},
{"t":2004.17,"v":1.5},{"t":2004.2,"v":2.0},{"t":2004.24,"v":null},{"t":2004.28,"v":2.5},{"t":2004.32,"v":1.0},{"t":2004.34,"v":2.5},{"t":2004.4,"v":null},{"t":2004.45,"v":3.8},{"t":2004.5,"v":4.5},{"t":2004.55,"v":4.8},{"t":2004.58,"v":5.1},{"t":2004.62,"v":null},{"t":2004.74,"v":2.8},{"t":2004.78,"v":2.0},{"t":2004.81,"v":null},{"t":2004.84,"v":1.4},{"t":2004.86,"v":2.0},{"t":2004.9,"v":null},
{"t":2005.3,"v":2.3},{"t":2005.32,"v":3.2},{"t":2005.36,"v":null},{"t":2005.55,"v":4.6},{"t":2005.6,"v":4.2},{"t":2005.66,"v":3.8},{"t":2005.7,"v":3.5},{"t":2005.75,"v":2.6},{"t":2005.79,"v":3.9},{"t":2005.82,"v":2.5},{"t":2005.86,"v":null},
{"t":2006.19,"v":2.2},{"t":2006.23,"v":2.2},{"t":2006.27,"v":null},{"t":2006.3,"v":2.7},{"t":2006.34,"v":2.6},{"t":2006.4,"v":null},{"t":2006.52,"v":3.2},{"t":2006.56,"v":4.7},{"t":2006.58,"v":2.8},{"t":2006.6,"v":4.5},{"t":2006.62,"v":2.7},{"t":2006.64,"v":4.2},{"t":2006.67,"v":3.0},{"t":2006.71,"v":3.3},{"t":2006.74,"v":2.4},{"t":2006.78,"v":2.8},{"t":2006.82,"v":2.6},{"t":2006.86,"v":2.8},{"t":2006.9,"v":null},
{"t":2007.59,"v":5.8},{"t":2007.61,"v":5.6},{"t":2007.65,"v":null},{"t":2007.72,"v":5.6},{"t":2007.73,"v":3.0},{"t":2007.76,"v":null},
{"t":2008.17,"v":0.9},{"t":2008.2,"v":0.5},{"t":2008.25,"v":null},{"t":2008.52,"v":5.5},{"t":2008.55,"v":6.2},{"t":2008.6,"v":null},{"t":2008.69,"v":4.5},{"t":2008.71,"v":5.3},{"t":2008.74,"v":3.0},{"t":2008.78,"v":2.0},{"t":2008.82,"v":1.5},{"t":2008.86,"v":null},
{"t":2009.25,"v":1.7},{"t":2009.27,"v":2.7},{"t":2009.29,"v":1.7},{"t":2009.31,"v":2.6},{"t":2009.34,"v":1.8},{"t":2009.36,"v":2.2},{"t":2009.4,"v":null},{"t":2009.5,"v":3.0},{"t":2009.54,"v":3.7},{"t":2009.58,"v":5.4},{"t":2009.6,"v":3.5},{"t":2009.62,"v":5.2},{"t":2009.64,"v":3.5},{"t":2009.67,"v":null},{"t":2009.7,"v":3.8},{"t":2009.75,"v":3.1},{"t":2009.8,"v":null},
{"t":2010.28,"v":1.5},{"t":2010.32,"v":1.3},{"t":2010.38,"v":1.4},{"t":2010.42,"v":1.6},{"t":2010.46,"v":null},{"t":2010.5,"v":1.9},{"t":2010.55,"v":2.1},{"t":2010.58,"v":3.0},{"t":2010.6,"v":1.9},{"t":2010.62,"v":2.9},{"t":2010.64,"v":1.7},{"t":2010.7,"v":1.7},{"t":2010.73,"v":null},{"t":2010.76,"v":1.2},{"t":2010.78,"v":1.6},{"t":2010.82,"v":null},
{"t":2011.27,"v":1.1},{"t":2011.31,"v":1.0},{"t":2011.35,"v":null},{"t":2011.43,"v":2.2},{"t":2011.47,"v":1.9},{"t":2011.52,"v":null},{"t":2011.58,"v":2.6},{"t":2011.64,"v":2.4},{"t":2011.7,"v":null},{"t":2011.75,"v":2.0},{"t":2011.8,"v":1.8},{"t":2011.86,"v":1.0},{"t":2011.9,"v":null}],
"p4G":[{"t":2001.0,"v":3.0},{"t":2001.05,"v":2.9},{"t":2001.1,"v":3.0},{"t":2001.13,"v":null},{"t":2001.17,"v":2.6},{"t":2001.22,"v":3.0},{"t":2001.28,"v":3.1},{"t":2001.31,"v":null},{"t":2001.35,"v":3.9},{"t":2001.4,"v":4.3},{"t":2001.47,"v":4.5},{"t":2001.55,"v":4.8},{"t":2001.62,"v":4.8},{"t":2001.66,"v":null},{"t":2001.74,"v":3.2},{"t":2001.8,"v":3.4},{"t":2001.85,"v":3.1},{"t":2001.9,"v":null},
{"t":2002.02,"v":2.9},{"t":2002.12,"v":2.9},{"t":2002.18,"v":2.5},{"t":2002.22,"v":null},{"t":2002.28,"v":2.8},{"t":2002.35,"v":3.5},{"t":2002.42,"v":4.0},{"t":2002.5,"v":4.5},{"t":2002.56,"v":4.5},{"t":2002.6,"v":4.2},{"t":2002.66,"v":3.8},{"t":2002.75,"v":3.5},{"t":2002.85,"v":3.2},{"t":2002.9,"v":null},
{"t":2003.02,"v":2.1},{"t":2003.08,"v":1.9},{"t":2003.12,"v":2.2},{"t":2003.15,"v":null},{"t":2003.2,"v":2.3},{"t":2003.3,"v":3.0},{"t":2003.38,"v":4.0},{"t":2003.45,"v":4.5},{"t":2003.55,"v":4.5},{"t":2003.62,"v":4.1},{"t":2003.7,"v":3.6},{"t":2003.76,"v":2.9},{"t":2003.79,"v":null},{"t":2003.82,"v":3.5},{"t":2003.86,"v":3.0},{"t":2003.92,"v":2.5},{"t":2003.95,"v":null},
{"t":2004.12,"v":2.8},{"t":2004.15,"v":2.3},{"t":2004.2,"v":2.2},{"t":2004.28,"v":3.2},{"t":2004.35,"v":4.0},{"t":2004.42,"v":4.6},{"t":2004.5,"v":4.5},{"t":2004.58,"v":4.5},{"t":2004.62,"v":null},{"t":2004.68,"v":3.3},{"t":2004.72,"v":3.0},{"t":2004.8,"v":2.5},{"t":2004.85,"v":2.2},{"t":2004.9,"v":2.1},{"t":2004.95,"v":1.7},{"t":2005.0,"v":1.6},
{"t":2005.05,"v":1.7},{"t":2005.1,"v":1.6},{"t":2005.14,"v":null},{"t":2005.2,"v":2.0},{"t":2005.28,"v":3.0},{"t":2005.38,"v":3.8},{"t":2005.45,"v":4.2},{"t":2005.55,"v":4.3},{"t":2005.62,"v":3.8},{"t":2005.7,"v":3.0},{"t":2005.76,"v":2.5},{"t":2005.8,"v":null},{"t":2005.85,"v":2.0},{"t":2005.93,"v":2.1},{"t":2005.96,"v":null},
{"t":2006.1,"v":1.9},{"t":2006.15,"v":1.6},{"t":2006.2,"v":null},{"t":2006.32,"v":2.7},{"t":2006.38,"v":3.0},{"t":2006.43,"v":3.8},{"t":2006.5,"v":4.1},{"t":2006.56,"v":4.2},{"t":2006.63,"v":3.9},{"t":2006.72,"v":3.3},{"t":2006.78,"v":3.0},{"t":2006.85,"v":2.6},{"t":2006.9,"v":null},
{"t":2007.07,"v":1.6},{"t":2007.12,"v":1.8},{"t":2007.16,"v":2.0},{"t":2007.19,"v":null},{"t":2007.22,"v":2.2},{"t":2007.29,"v":2.4},{"t":2007.35,"v":null},{"t":2007.44,"v":3.9},{"t":2007.5,"v":4.2},{"t":2007.56,"v":4.6},{"t":2007.62,"v":4.8},{"t":2007.68,"v":4.4},{"t":2007.74,"v":3.3},{"t":2007.8,"v":3.2},{"t":2007.86,"v":3.0},{"t":2007.93,"v":2.0},{"t":2007.96,"v":null},
{"t":2008.3,"v":2.1},{"t":2008.33,"v":2.3},{"t":2008.36,"v":null},{"t":2008.4,"v":3.2},{"t":2008.44,"v":4.0},{"t":2008.5,"v":4.6},{"t":2008.55,"v":4.7},{"t":2008.62,"v":4.5},{"t":2008.68,"v":3.6},{"t":2008.73,"v":3.0},{"t":2008.8,"v":2.8},{"t":2008.87,"v":2.2},{"t":2008.94,"v":1.4},{"t":2008.97,"v":null},
{"t":2009.27,"v":1.7},{"t":2009.33,"v":2.3},{"t":2009.4,"v":3.3},{"t":2009.48,"v":4.3},{"t":2009.55,"v":4.8},{"t":2009.59,"v":5.1},{"t":2009.64,"v":4.2},{"t":2009.7,"v":3.2},{"t":2009.77,"v":2.6},{"t":2009.84,"v":2.4},{"t":2009.95,"v":2.4},{"t":2009.98,"v":null},
{"t":2010.13,"v":2.1},{"t":2010.2,"v":2.0},{"t":2010.26,"v":2.0},{"t":2010.33,"v":2.5},{"t":2010.4,"v":2.9},{"t":2010.46,"v":3.1},{"t":2010.54,"v":3.0},{"t":2010.62,"v":2.8},{"t":2010.7,"v":2.8},{"t":2010.76,"v":2.6},{"t":2010.81,"v":2.3},{"t":2010.85,"v":null},
{"t":2010.97,"v":1.7},{"t":2011.05,"v":1.7},{"t":2011.1,"v":null},{"t":2011.25,"v":2.0},{"t":2011.3,"v":2.4},{"t":2011.36,"v":2.8},{"t":2011.45,"v":3.1},{"t":2011.52,"v":3.5},{"t":2011.6,"v":3.9},{"t":2011.66,"v":3.6},{"t":2011.72,"v":3.0},{"t":2011.78,"v":2.6},{"t":2011.85,"v":2.5},{"t":2011.92,"v":2.5}],
"p4B":[{"t":2001.28,"v":2.5},{"t":2001.32,"v":2.45},{"t":2001.36,"v":null},{"t":2001.45,"v":3.5},{"t":2001.5,"v":4.2},{"t":2001.56,"v":4.2},{"t":2001.62,"v":3.8},{"t":2001.68,"v":3.5},{"t":2001.75,"v":3.1},{"t":2001.8,"v":3.1},{"t":2001.85,"v":null},
{"t":2002.3,"v":2.0},{"t":2002.4,"v":3.0},{"t":2002.5,"v":4.0},{"t":2002.56,"v":3.6},{"t":2002.6,"v":3.3},{"t":2002.66,"v":3.5},{"t":2002.75,"v":2.5},{"t":2002.8,"v":2.2},{"t":2002.85,"v":null},
{"t":2003.32,"v":2.2},{"t":2003.4,"v":3.2},{"t":2003.48,"v":3.9},{"t":2003.53,"v":3.8},{"t":2003.58,"v":3.2},{"t":2003.65,"v":2.8},{"t":2003.72,"v":2.6},{"t":2003.78,"v":2.6},{"t":2003.82,"v":null},
{"t":2004.5,"v":4.3},{"t":2004.55,"v":4.0},{"t":2004.6,"v":3.7},{"t":2004.65,"v":3.2},{"t":2004.7,"v":2.8},{"t":2004.78,"v":2.6},{"t":2004.82,"v":null},
{"t":2005.37,"v":2.2},{"t":2005.42,"v":4.5},{"t":2005.48,"v":4.5},{"t":2005.51,"v":3.5},{"t":2005.55,"v":4.5},{"t":2005.62,"v":4.0},{"t":2005.7,"v":3.0},{"t":2005.79,"v":2.5},{"t":2005.85,"v":null},
{"t":2006.3,"v":1.8},{"t":2006.38,"v":3.0},{"t":2006.43,"v":4.0},{"t":2006.5,"v":4.9},{"t":2006.56,"v":4.6},{"t":2006.6,"v":4.3},{"t":2006.65,"v":3.5},{"t":2006.69,"v":3.0},{"t":2006.76,"v":2.5},{"t":2006.8,"v":2.0},{"t":2006.86,"v":1.8},{"t":2006.9,"v":null},
{"t":2007.35,"v":1.5},{"t":2007.42,"v":2.0},{"t":2007.48,"v":2.5},{"t":2007.55,"v":3.0},{"t":2007.59,"v":3.0},{"t":2007.64,"v":2.5},{"t":2007.7,"v":2.1},{"t":2007.73,"v":2.5},{"t":2007.75,"v":2.0},{"t":2007.8,"v":null},
{"t":2008.35,"v":1.3},{"t":2008.4,"v":1.8},{"t":2008.45,"v":3.0},{"t":2008.52,"v":4.4},{"t":2008.56,"v":3.8},{"t":2008.6,"v":3.2},{"t":2008.64,"v":2.6},{"t":2008.67,"v":3.0},{"t":2008.7,"v":2.8},{"t":2008.75,"v":null},
{"t":2009.31,"v":1.2},{"t":2009.36,"v":1.4},{"t":2009.42,"v":2.0},{"t":2009.48,"v":2.6},{"t":2009.52,"v":2.9},{"t":2009.56,"v":2.8},{"t":2009.62,"v":2.5},{"t":2009.66,"v":null},{"t":2009.73,"v":1.9},{"t":2009.78,"v":1.8},{"t":2009.83,"v":1.5},{"t":2009.87,"v":1.5},{"t":2009.9,"v":null},
{"t":2010.3,"v":1.4},{"t":2010.36,"v":1.5},{"t":2010.42,"v":2.0},{"t":2010.47,"v":2.8},{"t":2010.52,"v":3.6},{"t":2010.57,"v":3.2},{"t":2010.63,"v":2.8},{"t":2010.68,"v":2.5},{"t":2010.72,"v":2.6},{"t":2010.76,"v":2.4},{"t":2010.81,"v":1.8},{"t":2010.85,"v":null},
{"t":2011.25,"v":1.3},{"t":2011.29,"v":1.3},{"t":2011.35,"v":null},{"t":2011.54,"v":3.7},{"t":2011.56,"v":4.5},{"t":2011.6,"v":4.3},{"t":2011.63,"v":4.4},{"t":2011.68,"v":3.6},{"t":2011.74,"v":2.6},{"t":2011.8,"v":1.8},{"t":2011.82,"v":1.8},{"t":2011.85,"v":null}],
"p4C":[{"t":2002.45,"v":2.95},{"t":2002.51,"v":3.45},{"t":2002.59,"v":3.23},{"t":2002.66,"v":2.73},{"t":2002.85,"v":1.87},{"t":2003.5,"v":3.83},{"t":2003.58,"v":3.3},{"t":2003.65,"v":2.16},{"t":2003.85,"v":1.52},{"t":2004.34,"v":1.73},{"t":2004.47,"v":3.26},{"t":2004.51,"v":3.05},{"t":2004.55,"v":3.4},{"t":2005.33,"v":2.09},{"t":2005.52,"v":3.2},{"t":2005.64,"v":3.66},{"t":2005.86,"v":3.09}]
},
"vconcat":[
{"width":827,"height":233,"resolve":{"axis":{"x":"independent","y":"independent"}},
"layer":[
{"data":{"name":"p1M"},"mark":"line","encoding":{"x":{"field":"t","type":"quantitative","scale":{"domain":[2001,2011.92],"nice":false,"zero":false},"axis":null},"y":{"field":"v","type":"quantitative","scale":{"domain":[0,3],"nice":false,"zero":false},"axis":null},
 "color":{"datum":"MODIS","type":"nominal","scale":{"domain":["MODIS","GLASS","GEOV1"],"range":["#f0245a","#22d922","#1f5fe0"]},
 "legend":{"orient":"none","legendX":216,"legendY":1179,"direction":"horizontal","columns":3,"columnPadding":14,"symbolType":"M-1,0H1","symbolSize":3249,"symbolStrokeWidth":3,
 "labelExpr":"datum.label == 'MODIS' ? 'MODIS\u00a0\u00a0LAI' : datum.label == 'GLASS' ? 'GLASS\u00a0LAI' : 'GEOV1 LAI'"}}}},
{"data":{"name":"p1G"},"mark":"line","encoding":{"x":{"field":"t","type":"quantitative","axis":{"orient":"bottom","values":[2001,2002,2003,2004,2005,2006,2007,2008,2009,2010,2011],"format":"d","labelOffset":37.85,"labelPadding":13,"tickSize":-6,"title":"Year","titlePadding":1}},"y":{"field":"v","type":"quantitative","axis":{"orient":"left","values":[0,0.5,1,1.5,2,2.5,3],"format":".1f","labelPadding":16,"tickSize":-6,"title":"LAI (m²/m²)","titleX":-42,"titleY":116.5,"titleAngle":270,"titleBaseline":"bottom","titleAlign":"center"}},"color":{"datum":"GLASS"}}},
{"data":{"name":"p1B"},"mark":"line","encoding":{"x":{"field":"t","type":"quantitative","axis":null},"y":{"field":"v","type":"quantitative","axis":null},"color":{"datum":"GEOV1"}}},
{"data":{"name":"p1C"},"mark":"square","encoding":{"x":{"field":"t","type":"quantitative","axis":null},"y":{"field":"v","type":"quantitative","axis":null},
 "fill":{"datum":"GUGM","type":"nominal","scale":{"domain":["GUGM"],"range":["#22e4f0"]},
 "legend":{"orient":"none","legendX":2,"legendY":1178,"direction":"horizontal","symbolType":"M-1,-0.167H-0.667V0.167H-1Z M-0.167,-0.167H0.167V0.167H-0.167Z M0.667,-0.167H1V0.167H0.667Z","symbolSize":3600,"symbolStrokeWidth":0,"symbolOpacity":1,
 "labelExpr":"'GUGM\u00a0\u00a0LAI'"}}}},
{"data":{"values":[{}]},"mark":"text","encoding":{"x":{"datum":2001.357,"type":"quantitative","axis":null},"y":{"datum":2.755,"type":"quantitative","axis":{"orient":"left","values":[0.25,0.75,1.25,1.75,2.25,2.75],"labels":false,"tickSize":-3.5,"title":null,"domain":false}},"text":{"value":["CA AB-GRL","Tile: h10v04","Lat: 49.71","Lon: -112.94"]}}},
{"data":{"values":[{}]},"mark":"text","encoding":{"x":{"datum":2003.31,"type":"quantitative","axis":null},"y":{"datum":2.755,"type":"quantitative","axis":null},"text":{"value":"No. of GUGM: 75"}}},
{"data":{"values":[{}]},"mark":"text","encoding":{"x":{"datum":2005.36,"type":"quantitative","axis":null},"y":{"datum":2.755,"type":"quantitative","axis":null},"text":{"value":"No. of all valid product pixels: 36"}}},
{"data":{"values":[{}]},"mark":{"type":"text","angle":270,"align":"center"},"encoding":{"x":{"datum":2003.413,"type":"quantitative","axis":null},"y":{"datum":2.195,"type":"quantitative","axis":null},"text":{"value":"MODIS"}}},
{"data":{"values":[{}]},"mark":"text","encoding":{"x":{"datum":2003.63,"type":"quantitative","axis":null},"y":{"datum":2.472,"type":"quantitative","axis":null},"text":{"value":["R²=0.82","Bias=0.13","RMSE=0.21"]}}},
{"data":{"values":[{}]},"mark":{"type":"text","angle":270,"align":"center"},"encoding":{"x":{"datum":2005.548,"type":"quantitative","axis":null},"y":{"datum":2.195,"type":"quantitative","axis":null},"text":{"value":"GLASS"}}},
{"data":{"values":[{}]},"mark":"text","encoding":{"x":{"datum":2005.769,"type":"quantitative","axis":null},"y":{"datum":2.472,"type":"quantitative","axis":null},"text":{"value":["R²=0.82","Bias=0.10","RMSE=0.19"]}}},
{"data":{"values":[{}]},"mark":{"type":"text","angle":270,"align":"center"},"encoding":{"x":{"datum":2007.707,"type":"quantitative","axis":null},"y":{"datum":2.195,"type":"quantitative","axis":null},"text":{"value":"GEOV1"}}},
{"data":{"values":[{}]},"mark":"text","encoding":{"x":{"datum":2007.94,"type":"quantitative","axis":null},"y":{"datum":2.472,"type":"quantitative","axis":null},"text":{"value":["R²=0.80","Bias=0.17","RMSE=0.30"]}}},
{"data":{"values":[{}]},"mark":{"type":"text","align":"center","fontSize":23.5},"encoding":{"x":{"datum":2011.0,"type":"quantitative","axis":{"orient":"top","values":[2002,2003,2004,2005,2006,2007,2008,2009,2010,2011],"labels":false,"tickSize":-6,"title":null}},"y":{"datum":2.652,"type":"quantitative","axis":{"orient":"right","values":[0.5,1,1.5,2,2.5],"labels":false,"tickSize":-6,"title":null,"domain":false}},"text":{"value":"Grasses"}}}
]},
{"width":827,"height":233,"resolve":{"axis":{"x":"independent","y":"independent"}},
"layer":[
{"data":{"name":"p2M"},"mark":"line","encoding":{"x":{"field":"t","type":"quantitative","scale":{"domain":[2001,2011.92],"nice":false,"zero":false},"axis":null},"y":{"field":"v","type":"quantitative","scale":{"domain":[0,10],"nice":false,"zero":false},"axis":null},"color":{"datum":"MODIS"}}},
{"data":{"name":"p2G"},"mark":"line","encoding":{"x":{"field":"t","type":"quantitative","axis":{"orient":"bottom","values":[2001,2002,2003,2004,2005,2006,2007,2008,2009,2010,2011],"format":"d","labelOffset":37.85,"labelPadding":13,"tickSize":-6,"title":"Year","titlePadding":1}},"y":{"field":"v","type":"quantitative","axis":{"orient":"left","values":[0,2,4,6,8,10],"format":"d","labelPadding":16,"tickSize":-6,"title":"LAI (m²/m²)","titleX":-42,"titleY":116.5,"titleAngle":270,"titleBaseline":"bottom","titleAlign":"center"}},"color":{"datum":"GLASS"}}},
{"data":{"name":"p2B"},"mark":"line","encoding":{"x":{"field":"t","type":"quantitative","axis":null},"y":{"field":"v","type":"quantitative","axis":null},"color":{"datum":"GEOV1"}}},
{"data":{"name":"p2C"},"mark":"square","encoding":{"x":{"field":"t","type":"quantitative","axis":null},"y":{"field":"v","type":"quantitative","axis":null},"fill":{"datum":"GUGM"}}},
{"data":{"values":[{}]},"mark":"text","encoding":{"x":{"datum":2001.357,"type":"quantitative","axis":null},"y":{"datum":9.185,"type":"quantitative","axis":{"orient":"left","values":[1,3,5,7,9],"labels":false,"tickSize":-3.5,"title":null,"domain":false}},"text":{"value":["CH FQA","Tile: h27v05","Lat: 35.02","Lon: 114.55"]}}},
{"data":{"values":[{}]},"mark":"text","encoding":{"x":{"datum":2003.31,"type":"quantitative","axis":null},"y":{"datum":9.185,"type":"quantitative","axis":null},"text":{"value":"No. of GUGM: 49"}}},
{"data":{"values":[{}]},"mark":"text","encoding":{"x":{"datum":2005.36,"type":"quantitative","axis":null},"y":{"datum":9.185,"type":"quantitative","axis":null},"text":{"value":"No. of all valid product pixels: 27"}}},
{"data":{"values":[{}]},"mark":{"type":"text","angle":270,"align":"center"},"encoding":{"x":{"datum":2003.413,"type":"quantitative","axis":null},"y":{"datum":7.296,"type":"quantitative","axis":null},"text":{"value":"MODIS"}}},
{"data":{"values":[{}]},"mark":"text","encoding":{"x":{"datum":2003.63,"type":"quantitative","axis":null},"y":{"datum":8.24,"type":"quantitative","axis":null},"text":{"value":["R²=0.53","Bias=-0.30","RMSE=0.65"]}}},
{"data":{"values":[{}]},"mark":{"type":"text","angle":270,"align":"center"},"encoding":{"x":{"datum":2005.548,"type":"quantitative","axis":null},"y":{"datum":7.296,"type":"quantitative","axis":null},"text":{"value":"GLASS"}}},
{"data":{"values":[{}]},"mark":"text","encoding":{"x":{"datum":2005.769,"type":"quantitative","axis":null},"y":{"datum":8.24,"type":"quantitative","axis":null},"text":{"value":["R²=0.54","Bias=0.01","RMSE=0.56"]}}},
{"data":{"values":[{}]},"mark":{"type":"text","angle":270,"align":"center"},"encoding":{"x":{"datum":2007.707,"type":"quantitative","axis":null},"y":{"datum":7.296,"type":"quantitative","axis":null},"text":{"value":"GEOV1"}}},
{"data":{"values":[{}]},"mark":"text","encoding":{"x":{"datum":2007.94,"type":"quantitative","axis":null},"y":{"datum":8.24,"type":"quantitative","axis":null},"text":{"value":["R²=0.64","Bias=0.47","RMSE=0.96"]}}},
{"data":{"values":[{}]},"mark":{"type":"text","align":"center","fontSize":23.5},"encoding":{"x":{"datum":2011.05,"type":"quantitative","axis":{"orient":"top","values":[2002,2003,2004,2005,2006,2007,2008,2009,2010,2011],"labels":false,"tickSize":-6,"title":null}},"y":{"datum":9.013,"type":"quantitative","axis":{"orient":"right","values":[2,4,6,8],"labels":false,"tickSize":-6,"title":null,"domain":false}},"text":{"value":"Crops"}}}
]},
{"width":827,"height":233,"resolve":{"axis":{"x":"independent","y":"independent"}},
"layer":[
{"data":{"name":"p3M"},"mark":"line","encoding":{"x":{"field":"t","type":"quantitative","scale":{"domain":[2001,2011.92],"nice":false,"zero":false},"axis":null},"y":{"field":"v","type":"quantitative","scale":{"domain":[0,11],"nice":false,"zero":false},"axis":null},"color":{"datum":"MODIS"}}},
{"data":{"name":"p3G"},"mark":"line","encoding":{"x":{"field":"t","type":"quantitative","axis":{"orient":"bottom","values":[2001,2002,2003,2004,2005,2006,2007,2008,2009,2010,2011],"format":"d","labelOffset":37.85,"labelPadding":13,"tickSize":-6,"title":"Year","titlePadding":1}},"y":{"field":"v","type":"quantitative","axis":{"orient":"left","values":[0,2,4,6,8,10],"format":"d","labelPadding":16,"tickSize":-6,"title":"LAI (m²/m²)","titleX":-42,"titleY":116.5,"titleAngle":270,"titleBaseline":"bottom","titleAlign":"center"}},"color":{"datum":"GLASS"}}},
{"data":{"name":"p3B"},"mark":"line","encoding":{"x":{"field":"t","type":"quantitative","axis":null},"y":{"field":"v","type":"quantitative","axis":null},"color":{"datum":"GEOV1"}}},
{"data":{"name":"p3C"},"mark":"square","encoding":{"x":{"field":"t","type":"quantitative","axis":null},"y":{"field":"v","type":"quantitative","axis":null},"fill":{"datum":"GUGM"}}},
{"data":{"values":[{}]},"mark":"text","encoding":{"x":{"datum":2001.357,"type":"quantitative","axis":null},"y":{"datum":10.103,"type":"quantitative","axis":{"orient":"left","values":[1,3,5,7,9],"labels":false,"tickSize":-3.5,"title":null,"domain":false}},"text":{"value":["US MMS","Tile: h11v05","Lat: 39.32","Lon: -86.41"]}}},
{"data":{"values":[{}]},"mark":"text","encoding":{"x":{"datum":2003.31,"type":"quantitative","axis":null},"y":{"datum":10.103,"type":"quantitative","axis":null},"text":{"value":"No. of GUGM: 182"}}},
{"data":{"values":[{}]},"mark":"text","encoding":{"x":{"datum":2005.5,"type":"quantitative","axis":null},"y":{"datum":10.103,"type":"quantitative","axis":null},"text":{"value":"No. of all valid product pixels: 82"}}},
{"data":{"values":[{}]},"mark":{"type":"text","angle":270,"align":"center"},"encoding":{"x":{"datum":2003.413,"type":"quantitative","axis":null},"y":{"datum":8.026,"type":"quantitative","axis":null},"text":{"value":"MODIS"}}},
{"data":{"values":[{}]},"mark":"text","encoding":{"x":{"datum":2003.63,"type":"quantitative","axis":null},"y":{"datum":9.064,"type":"quantitative","axis":null},"text":{"value":["R²=0.77","Bias=0.10","RMSE=1.02"]}}},
{"data":{"values":[{}]},"mark":{"type":"text","angle":270,"align":"center"},"encoding":{"x":{"datum":2005.548,"type":"quantitative","axis":null},"y":{"datum":8.026,"type":"quantitative","axis":null},"text":{"value":"GLASS"}}},
{"data":{"values":[{}]},"mark":"text","encoding":{"x":{"datum":2005.769,"type":"quantitative","axis":null},"y":{"datum":9.064,"type":"quantitative","axis":null},"text":{"value":["R²=0.83","Bias=0.24","RMSE=0.72"]}}},
{"data":{"values":[{}]},"mark":{"type":"text","angle":270,"align":"center"},"encoding":{"x":{"datum":2007.707,"type":"quantitative","axis":null},"y":{"datum":8.026,"type":"quantitative","axis":null},"text":{"value":"GEOV1"}}},
{"data":{"values":[{}]},"mark":"text","encoding":{"x":{"datum":2007.94,"type":"quantitative","axis":null},"y":{"datum":9.064,"type":"quantitative","axis":null},"text":{"value":["R²=0.76","Bias=-0.11","RMSE=0.98"]}}},
{"data":{"values":[{}]},"mark":{"type":"text","align":"center","fontSize":23.5},"encoding":{"x":{"datum":2011.03,"type":"quantitative","axis":{"orient":"top","values":[2002,2003,2004,2005,2006,2007,2008,2009,2010,2011],"labels":false,"tickSize":-6,"title":null}},"y":{"datum":9.725,"type":"quantitative","axis":{"orient":"right","values":[2,4,6,8,10],"labels":false,"tickSize":-6,"title":null,"domain":false}},"text":{"value":"DBF"}}}
]},
{"width":827,"height":234,"resolve":{"axis":{"x":"independent","y":"independent"}},
"layer":[
{"data":{"name":"p4M"},"mark":"line","encoding":{"x":{"field":"t","type":"quantitative","scale":{"domain":[2001,2011.92],"nice":false,"zero":false},"axis":null},"y":{"field":"v","type":"quantitative","scale":{"domain":[0,10],"nice":false,"zero":false},"axis":null},"color":{"datum":"MODIS"}}},
{"data":{"name":"p4G"},"mark":"line","encoding":{"x":{"field":"t","type":"quantitative","axis":{"orient":"bottom","values":[2001,2002,2003,2004,2005,2006,2007,2008,2009,2010,2011],"format":"d","labelOffset":37.85,"labelPadding":13,"tickSize":-6,"title":"Year","titlePadding":1}},"y":{"field":"v","type":"quantitative","axis":{"orient":"left","values":[0,2,4,6,8,10],"format":"d","labelPadding":16,"tickSize":-6,"title":"LAI (m²/m²)","titleX":-42,"titleY":117,"titleAngle":270,"titleBaseline":"bottom","titleAlign":"center"}},"color":{"datum":"GLASS"}}},
{"data":{"name":"p4B"},"mark":"line","encoding":{"x":{"field":"t","type":"quantitative","axis":null},"y":{"field":"v","type":"quantitative","axis":null},"color":{"datum":"GEOV1"}}},
{"data":{"name":"p4C"},"mark":"square","encoding":{"x":{"field":"t","type":"quantitative","axis":null},"y":{"field":"v","type":"quantitative","axis":null},"fill":{"datum":"GUGM"}}},
{"data":{"values":[{}]},"mark":"text","encoding":{"x":{"datum":2001.357,"type":"quantitative","axis":null},"y":{"datum":9.13,"type":"quantitative","axis":{"orient":"left","values":[1,3,5,7,9],"labels":false,"tickSize":-3.5,"title":null,"domain":false}},"text":{"value":["CA BC-DF00","Tile: h09v04","Lat: 49.87","Lon: -125.29"]}}},
{"data":{"values":[{}]},"mark":"text","encoding":{"x":{"datum":2003.31,"type":"quantitative","axis":null},"y":{"datum":9.13,"type":"quantitative","axis":null},"text":{"value":"No. of GUGM: 17"}}},
{"data":{"values":[{}]},"mark":"text","encoding":{"x":{"datum":2005.36,"type":"quantitative","axis":null},"y":{"datum":9.13,"type":"quantitative","axis":null},"text":{"value":"No. of all valid product pixels: 5"}}},
{"data":{"values":[{}]},"mark":{"type":"text","angle":270,"align":"center"},"encoding":{"x":{"datum":2003.413,"type":"quantitative","axis":null},"y":{"datum":7.25,"type":"quantitative","axis":null},"text":{"value":"MODIS"}}},
{"data":{"values":[{}]},"mark":"text","encoding":{"x":{"datum":2003.63,"type":"quantitative","axis":null},"y":{"datum":8.19,"type":"quantitative","axis":null},"text":{"value":["R²=0.75","Bias=0.24","RMSE=0.38"]}}},
{"data":{"values":[{}]},"mark":{"type":"text","angle":270,"align":"center"},"encoding":{"x":{"datum":2005.548,"type":"quantitative","axis":null},"y":{"datum":7.25,"type":"quantitative","axis":null},"text":{"value":"GLASS"}}},
{"data":{"values":[{}]},"mark":"text","encoding":{"x":{"datum":2005.769,"type":"quantitative","axis":null},"y":{"datum":8.19,"type":"quantitative","axis":null},"text":{"value":["R²=0.56","Bias=1.42","RMSE=1.51"]}}},
{"data":{"values":[{}]},"mark":{"type":"text","angle":270,"align":"center"},"encoding":{"x":{"datum":2007.707,"type":"quantitative","axis":null},"y":{"datum":7.25,"type":"quantitative","axis":null},"text":{"value":"GEOV1"}}},
{"data":{"values":[{}]},"mark":"text","encoding":{"x":{"datum":2007.94,"type":"quantitative","axis":null},"y":{"datum":8.19,"type":"quantitative","axis":null},"text":{"value":["R²=0.74","Bias=0.56","RMSE=0.64"]}}},
{"data":{"values":[{}]},"mark":{"type":"text","align":"center","fontSize":23.5},"encoding":{"x":{"datum":2011.03,"type":"quantitative","axis":{"orient":"top","values":[2002,2003,2004,2005,2006,2007,2008,2009,2010,2011],"labels":false,"tickSize":-6,"title":null}},"y":{"datum":8.846,"type":"quantitative","axis":{"orient":"right","values":[2,4,6,8],"labels":false,"tickSize":-6,"title":null,"domain":false}},"text":{"value":"ENF"}}}
]}
]
}
